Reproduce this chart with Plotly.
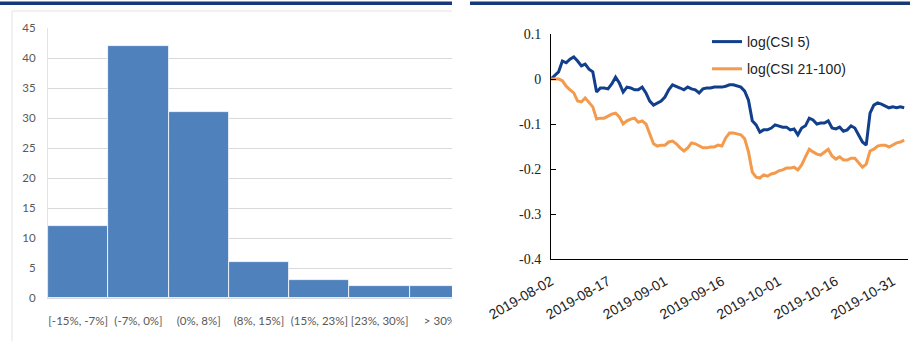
import pandas as pd
import plotly.graph_objects as go

W, H = 916, 343

# ---- histogram of returns ----
bins = ["[-15%, -7%]", "(-7%, 0%]", "(0%, 8%]", "(8%, 15%]", "(15%, 23%]", "[23%, 30%]", "> 30%"]
counts = [12, 42, 31, 6, 3, 2, 2]
hist_ticks = [0, 5, 10, 15, 20, 25, 30, 35, 40, 45]

# ---- daily log index levels ----
start_date = "2019-08-02"
dates = pd.date_range(start_date, periods=94, freq="D")
csi5 = [
    0.000, 0.009, 0.016, 0.040, 0.036, 0.044, 0.049, 0.040, 0.029, 0.033,
    0.022, 0.016, -0.029, -0.020, -0.020, -0.022, -0.011, 0.004, -0.009, -0.029,
    -0.018, -0.020, -0.024, -0.024, -0.018, -0.031, -0.049, -0.058, -0.053, -0.049,
    -0.040, -0.024, -0.013, -0.016, -0.020, -0.024, -0.018, -0.022, -0.024, -0.031,
    -0.022, -0.020, -0.020, -0.018, -0.018, -0.018, -0.016, -0.013, -0.013, -0.016,
    -0.018, -0.027, -0.047, -0.093, -0.102, -0.118, -0.113, -0.113, -0.109, -0.102,
    -0.104, -0.107, -0.107, -0.113, -0.111, -0.124, -0.109, -0.104, -0.087, -0.091,
    -0.100, -0.098, -0.098, -0.093, -0.109, -0.111, -0.107, -0.116, -0.113, -0.104,
    -0.109, -0.124, -0.140, -0.147, -0.076, -0.058, -0.053, -0.056, -0.060, -0.064,
    -0.062, -0.064, -0.062, -0.064,
]
csi21_100 = [
    0.000, 0.000, 0.000, -0.004, -0.016, -0.024, -0.031, -0.049, -0.051, -0.042,
    -0.051, -0.062, -0.089, -0.087, -0.087, -0.082, -0.078, -0.076, -0.084, -0.100,
    -0.093, -0.089, -0.087, -0.096, -0.093, -0.100, -0.122, -0.144, -0.149, -0.147,
    -0.147, -0.140, -0.138, -0.144, -0.153, -0.160, -0.153, -0.142, -0.144, -0.149,
    -0.153, -0.153, -0.151, -0.151, -0.147, -0.149, -0.131, -0.120, -0.120, -0.122,
    -0.124, -0.133, -0.162, -0.207, -0.218, -0.220, -0.213, -0.216, -0.211, -0.209,
    -0.204, -0.202, -0.198, -0.198, -0.196, -0.202, -0.191, -0.173, -0.156, -0.162,
    -0.167, -0.169, -0.162, -0.156, -0.171, -0.178, -0.173, -0.180, -0.180, -0.176,
    -0.176, -0.187, -0.196, -0.189, -0.160, -0.156, -0.149, -0.147, -0.147, -0.151,
    -0.147, -0.142, -0.140, -0.136,
]
label_dates = ["2019-08-02", "2019-08-17", "2019-09-01", "2019-09-16",
               "2019-10-01", "2019-10-16", "2019-10-31"]
tick_dates = pd.date_range("2019-08-02", "2019-11-04", freq="10D")
x_end = "2019-11-04"
y_vals = [-0.4, -0.3, -0.2, -0.1, 0, 0.1]
y_text = ["-0.4", "-0.3", "-0.2", "-0.1", "0", "0.1"]

BAR = "#4f81bd"
NAVY = "#123f8c"
ORANGE = "#f39a4c"
HEADER = "#17397a"


def fx(px):
    return px / W


def fy(py):
    return 1 - py / H


fig = go.Figure()

fig.add_trace(go.Bar(
    x=list(range(len(bins))), y=counts, xaxis="x", yaxis="y",
    marker=dict(color=BAR, line=dict(color="white", width=0.8)),
    width=1.0, showlegend=False, hoverinfo="skip",
))

fig.add_trace(go.Scatter(
    x=dates, y=csi5, xaxis="x2", yaxis="y2", mode="lines",
    name="log(CSI 5)", legendgroup="a",
    line=dict(color=NAVY, width=3),
))
fig.add_trace(go.Scatter(
    x=dates, y=csi21_100, xaxis="x2", yaxis="y2", mode="lines",
    name="log(CSI 21-100)", legendgroup="b",
    line=dict(color=ORANGE, width=3),
))

grey_font = dict(family="Lato, Open Sans, sans-serif", size=11.5, color="#595959")

shapes = [
    # header rules
    dict(type="rect", xref="paper", yref="paper", x0=0, x1=fx(452), y0=fy(5), y1=fy(1.5),
         fillcolor=HEADER, line=dict(width=0), layer="above"),
    dict(type="rect", xref="paper", yref="paper", x0=fx(470), x1=fx(910), y0=fy(5), y1=fy(1.5),
         fillcolor=HEADER, line=dict(width=0), layer="above"),
    # left panel frame
    dict(type="line", xref="paper", yref="paper", x0=fx(12), x1=fx(452), y0=fy(11), y1=fy(11),
         line=dict(color="#e3e3e3", width=1)),
    dict(type="line", xref="paper", yref="paper", x0=fx(12), x1=fx(12), y0=fy(11), y1=fy(341),
         line=dict(color="#e3e3e3", width=1)),
    # panel edge mask
    dict(type="rect", xref="paper", yref="paper", x0=fx(452), x1=fx(469), y0=fy(343), y1=fy(300),
         fillcolor="white", line=dict(width=0), layer="above"),
]

fig.update_layout(
    width=W, height=H,
    margin=dict(l=0, r=0, t=0, b=0, autoexpand=False),
    paper_bgcolor="white", plot_bgcolor="white",
    bargap=0,
    showlegend=True,
    legend=dict(
        x=fx(707), y=fy(26), xanchor="left", yanchor="top",
        bgcolor="rgba(0,0,0,0)", traceorder="grouped", tracegroupgap=6,
        font=dict(family="Liberation Sans, Arial, sans-serif", size=14, color="#222"),
    ),
    xaxis=dict(
        domain=[fx(48), fx(452)], anchor="y", automargin=False,
        range=[-0.5, 6.2], tickmode="array", tickangle=0,
        tickvals=list(range(len(bins))), ticktext=bins,
        showline=True, linecolor="#d9d9d9", ticks="", showgrid=False, zeroline=False,
        tickfont=grey_font, ticklabelstandoff=12,
    ),
    yaxis=dict(
        domain=[fy(298), fy(28)], anchor="x", automargin=False,
        range=[0, 45], tickmode="array", tickvals=hist_ticks,
        showgrid=True, gridcolor="#d9d9d9", gridwidth=1,
        showline=True, linecolor="#e3e3e3", zeroline=False, ticks="",
        tickfont=grey_font, ticklabelstandoff=9,
    ),
    xaxis2=dict(
        domain=[fx(551), fx(908)], anchor="y2", type="date", automargin=False,
        range=[start_date, x_end], tickmode="array",
        tickvals=label_dates, ticktext=label_dates, tickangle=-30,
        ticks="", showline=True, linecolor="black", linewidth=1,
        showgrid=False, zeroline=False, ticklabelstandoff=8,
        tickfont=dict(family="Liberation Sans, Arial, sans-serif", size=14, color="#222"),
    ),
    xaxis3=dict(
        domain=[fx(551), fx(908)], anchor="y2", overlaying="x2", type="date",
        automargin=False,
        range=[start_date, x_end], tickmode="array", tickvals=list(tick_dates),
        ticks="inside", ticklen=5, tickcolor="black", tickwidth=1,
        showticklabels=False, showline=False, showgrid=False, zeroline=False,
    ),
    yaxis2=dict(
        domain=[fy(259), fy(34)], anchor="x2", automargin=False,
        range=[-0.4, 0.1], tickmode="array", tickvals=y_vals, ticktext=y_text,
        ticks="inside", ticklen=5, tickcolor="black",
        showline=True, linecolor="black", linewidth=1,
        showgrid=False, zeroline=False,
        tickfont=dict(family="Liberation Serif, serif", size=14, color="#222"),
        ticklabelstandoff=6,
    ),
    shapes=shapes,
)

fig.write_html("out.html")
